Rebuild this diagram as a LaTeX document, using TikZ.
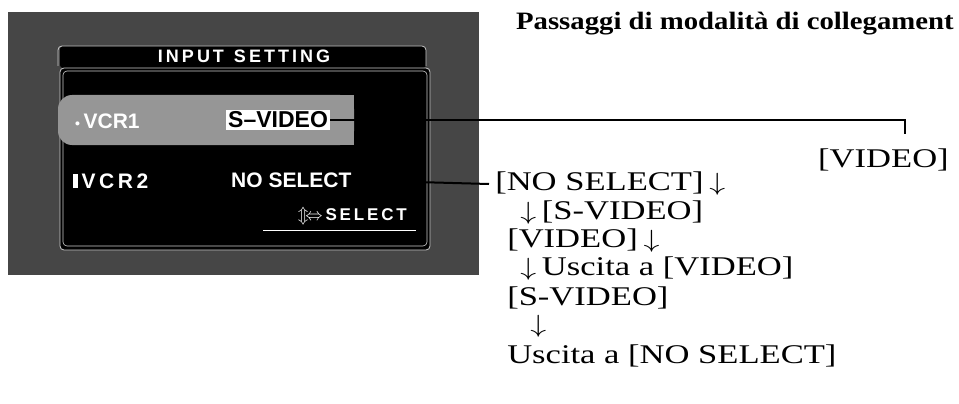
\documentclass[tikz,border=0pt]{standalone}
\usepackage{fontspec}
\setmainfont{Liberation Serif}
\setsansfont{Liberation Sans}
\usetikzlibrary{positioning}
\definecolor{screencolor}{RGB}{70,70,70}
\definecolor{barcolor}{RGB}{150,150,150}
\tikzstyle{osd} = [font=\sffamily\bfseries\fontsize{21}{21}\selectfont, text=white, inner sep=1pt]
\tikzstyle{step text} = [font=\fontsize{27}{27}\selectfont, anchor=west, inner sep=0pt, xscale=1.28, transform shape]
\tikzstyle{leader} = [line width=2pt]
\begin{document}
\begin{tikzpicture}[x=1pt, y=-1pt]
\useasboundingbox (0,0) rectangle (959,404);

% Screen
\fill[screencolor] (8,12) rectangle (479,275);
\fill[black, rounded corners=3pt] (60,46) rectangle (426,68);
\draw[white!80!black, line width=0.8pt, rounded corners=4pt] (58,66) -- (58,46) -- (426,46) -- (426,66);
\fill[black, rounded corners=4pt] (60,68) rectangle (430,250);
\draw[white!80!black, line width=0.8pt, rounded corners=4pt] (60,68) rectangle (430,250);
\draw[white!80!black, line width=0.6pt, rounded corners=4pt] (63,71) rectangle (427,246);
\fill[barcolor, rounded corners=14pt] (58,95) rectangle (354,145);
\fill[barcolor] (200,95) rectangle (354,145);
\node[osd, font=\sffamily\bfseries\fontsize{18}{18}\selectfont] (title) at (244,56) {I\,N\,P\,U\,T\ \ S\,E\,T\,T\,I\,N\,G};
\node[osd, anchor=west] (vcr1) at (74,121) {{\fontsize{14}{14}\selectfont •}\,VCR1};
\node[osd, anchor=west, fill=white, text=black, inner sep=2pt, font=\sffamily\bfseries\fontsize{23}{23}\selectfont] (svideo) at (226,120) {S--VIDEO};
\node[osd, anchor=west] (vcr2) at (72,181) {\rule{5pt}{14pt}\,V\,C\,R\,2};
\node[osd, anchor=west] (nosel) at (230,180) {NO SELECT};
\node[osd, anchor=east, font=\sffamily\bfseries\fontsize{17}{17}\selectfont] (select) at (408,216) {$\Updownarrow\!\Leftrightarrow$\,S\,E\,L\,E\,C\,T};
\draw[white, line width=0.8pt] (263,230) -- (416,230);

% Right side texts
\node[font=\bfseries\fontsize{25}{25}\selectfont, anchor=west, xscale=1.15, transform shape] (head) at (512,24) {Passaggi di modalità di collegament};
\node[step text, anchor=east] (video) at (949,160) {[VIDEO]};
\node[step text] (s1) at (495,184) {[NO SELECT]\,$\downarrow$};
\node[step text] (s2) at (520,213) {$\downarrow$\,[S-VIDEO]};
\node[step text] (s3) at (507,241) {[VIDEO]\,$\downarrow$};
\node[step text] (s4) at (520,269) {$\downarrow$\,Uscita a [VIDEO]};
\node[step text] (s5) at (507,298) {[S-VIDEO]};
\node[step text] (s6) at (530,326) {$\downarrow$};
\node[step text] (s7) at (507,356) {Uscita a [NO SELECT]};

% Leaders
\coordinate (corner) at (905,120);
\coordinate (nosel end) at (380,181);
\draw[leader] (svideo.east) -- (corner) -- (905,134);
\draw[leader] (nosel end) -- ([xshift=-6pt]s1.west);
\end{tikzpicture}
\end{document}
